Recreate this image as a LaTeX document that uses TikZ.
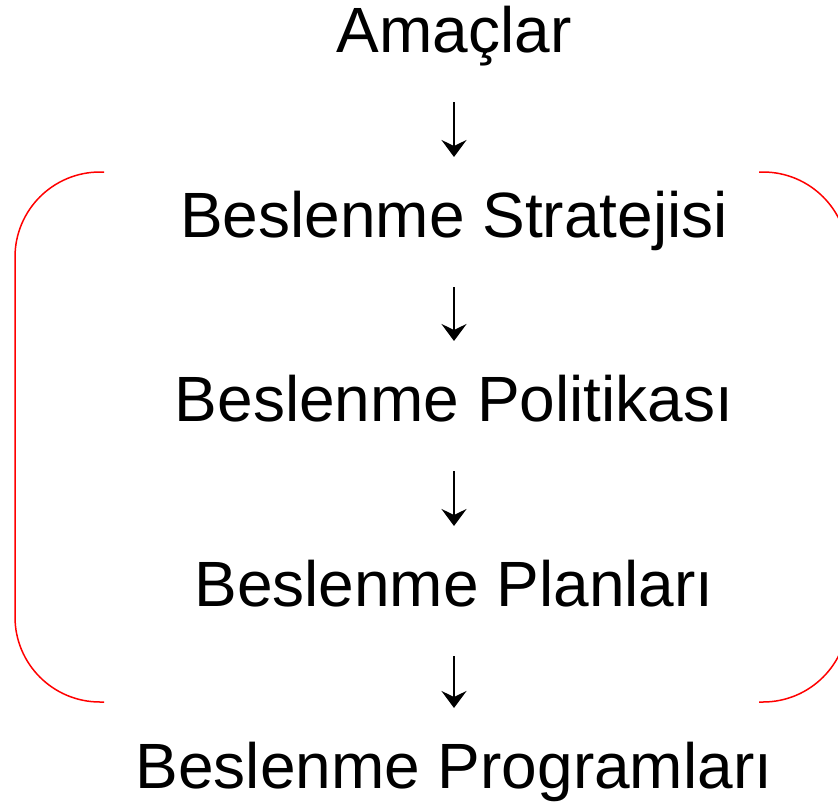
\documentclass[tikz,border=0pt]{standalone}
\usepackage{fontspec}
\setmainfont{Liberation Sans}
\usetikzlibrary{arrows.meta}

\begin{document}
\begin{tikzpicture}[x=1pt, y=1pt,
  every node/.style={font=\fontsize{64}{76}\selectfont, inner sep=0pt, outer sep=0pt, text height=47pt, text depth=14pt, anchor=base},
  arr/.style={-{Stealth[length=17pt, width=25pt, inset=6pt]}, line width=2.7pt, shorten <=36pt, shorten >=33pt},
  brack/.style={red, line width=1.5pt, rounded corners=85pt}]
\clip (0,0) rectangle (838,-801);
\fill[white] (0,0) rectangle (838,-801);

\node (amac) at (454,-52) {Amaçlar};
\node (strat) at (454,-237) {Beslenme Stratejisi};
\node (polit) at (454,-421) {Beslenme Politikası};
\node (plan) at (454,-606) {Beslenme Planları};
\node (prog) at (454,-788) {Beslenme Programları};

\draw[arr] (amac.south) -- (strat.north);
\draw[arr] (strat.south) -- (polit.north);
\draw[arr] (polit.south) -- (plan.north);
\draw[arr] (plan.south) -- (prog.north);

\draw[brack] (104,-172) -- (15,-172) -- (15,-702) -- (104,-702);
\draw[brack] (759,-172) -- (848,-172) -- (848,-702) -- (759,-702);
\end{tikzpicture}
\end{document}
